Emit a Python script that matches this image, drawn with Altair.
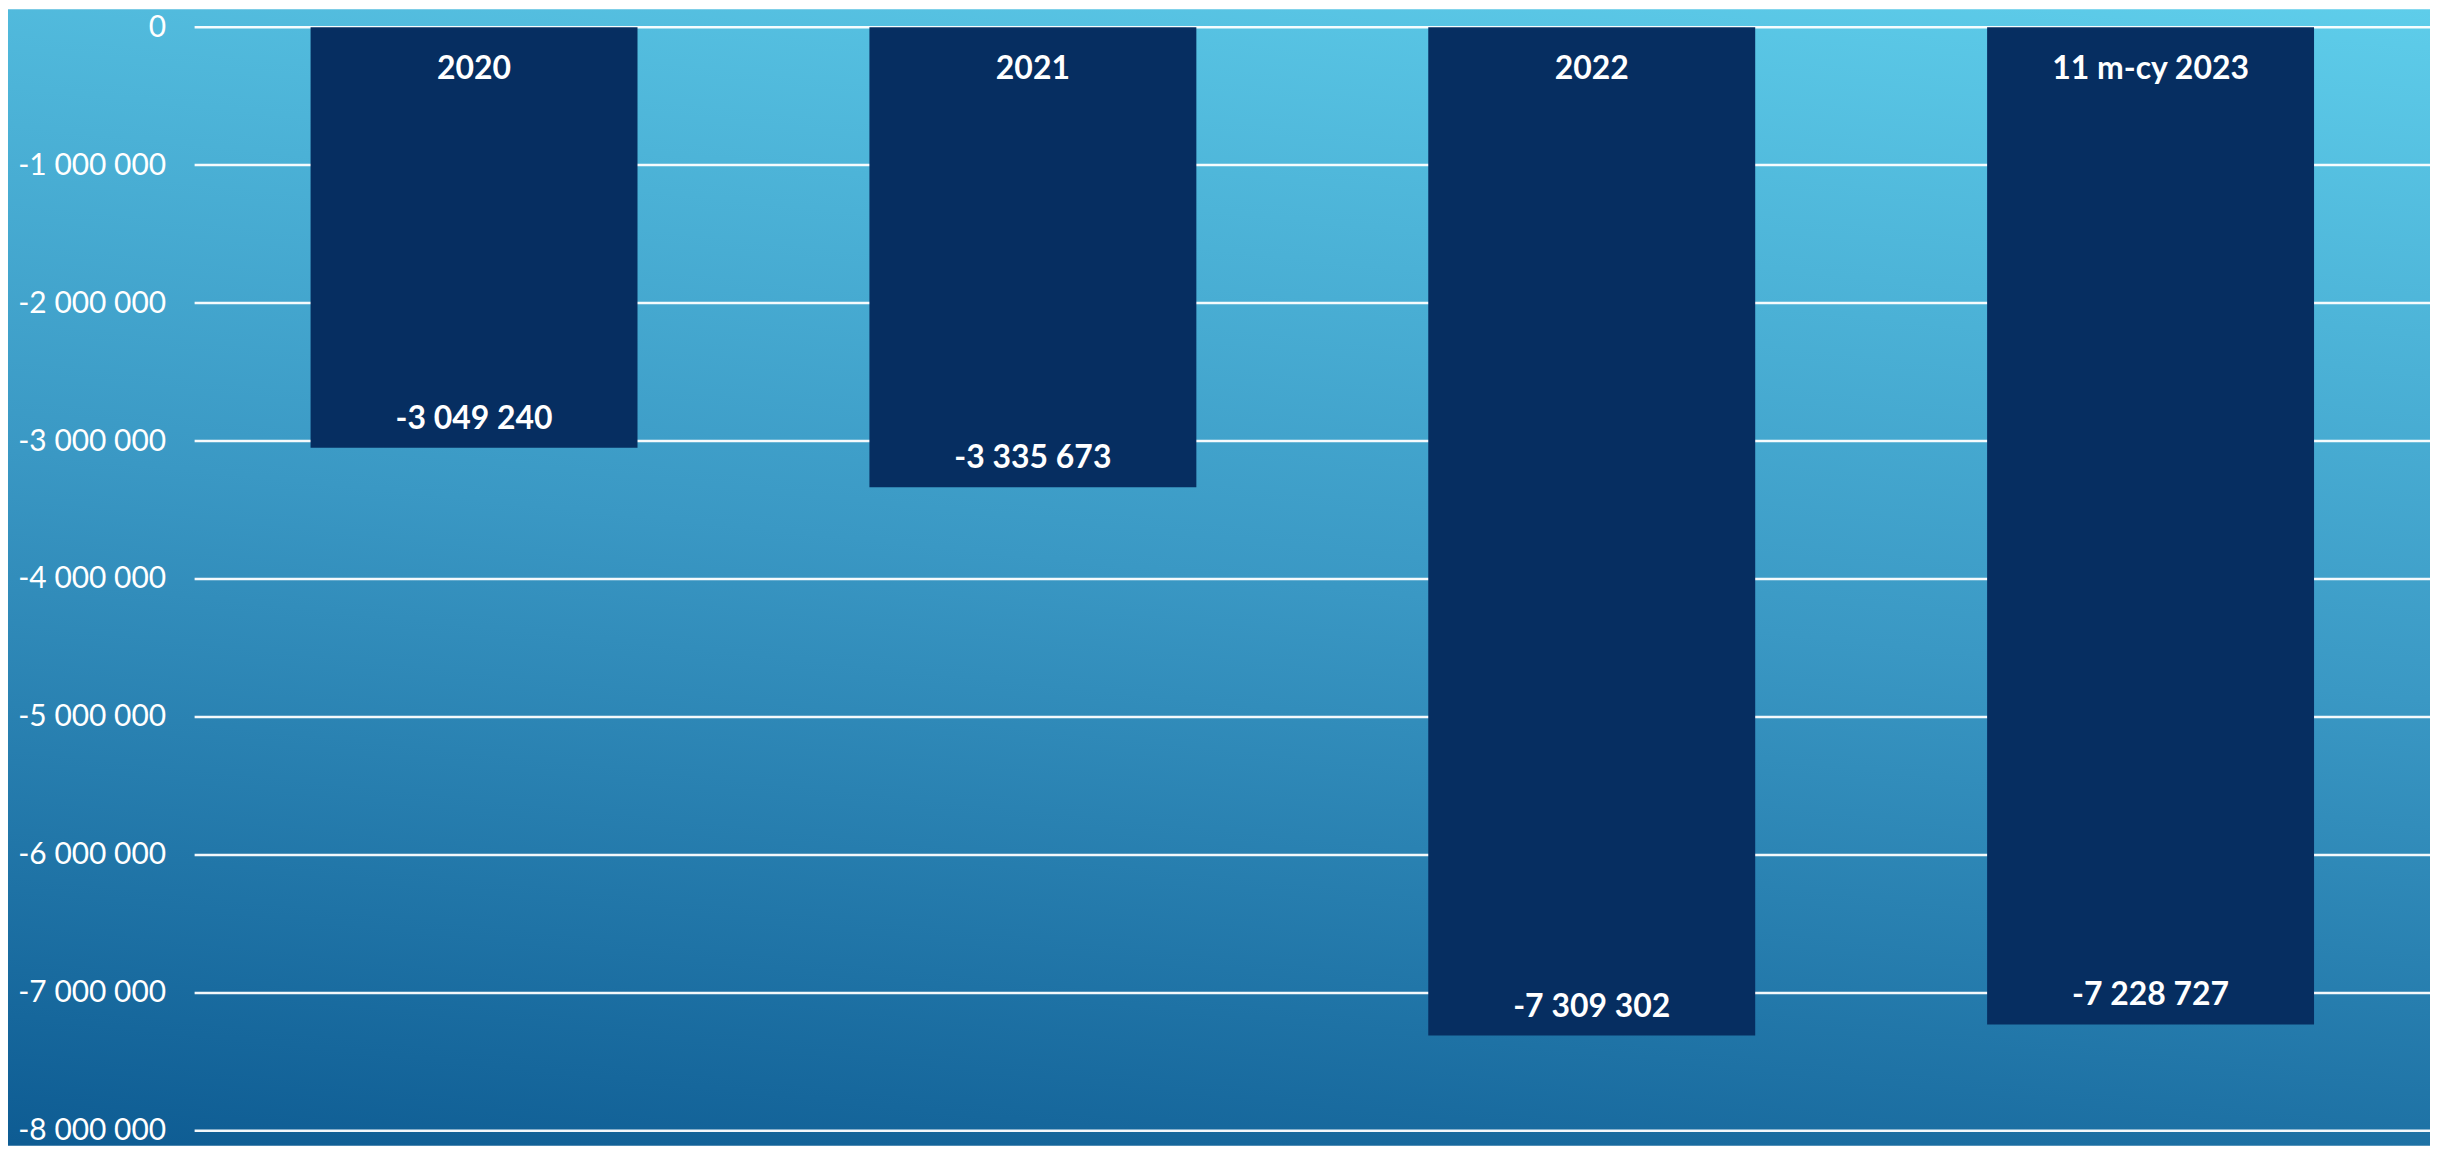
import altair as alt
import pandas as pd

categories = ["2020", "2021", "2022", "11 m-cy 2023"]
values = [-3049240, -3335673, -7309302, -7228727]
tick_values = [0, -1000000, -2000000, -3000000, -4000000, -5000000, -6000000, -7000000, -8000000]

W, H = 2240, 1106
PAD_L, PAD_T, PAD_R, PAD_B = 187, 18, 0, 15

labels = [f"{v:,}".replace(",", " ") for v in values]
df = pd.DataFrame({"cat": categories, "val": values, "lab": labels})
grid_df = pd.DataFrame({"tick": tick_values})
bg_df = pd.DataFrame({"k": [1]})

FONT = "Lato"

x = alt.X("cat:N", sort=categories, axis=None,
          scale=alt.Scale(paddingInner=0.415, paddingOuter=0.2075))
y_scale = alt.Scale(domain=[-8000000, 0], nice=False)
y_axis = alt.Axis(values=tick_values, grid=False, domain=False, ticks=False,
                  title=None, labelPadding=29, labelFont=FONT, labelFontWeight="normal",
                  labelFontSize=30, labelColor="white", zindex=1,
                  labelExpr="replace(replace(format(datum.value, ','), /,/g, ' '), '\u2212', '-')")

bg = alt.Chart(bg_df).mark_rect(
    color=alt.Gradient(
        gradient="linear",
        stops=[alt.GradientStop(color="#5ECDEA", offset=0),
               alt.GradientStop(color="#3A98C4", offset=0.5),
               alt.GradientStop(color="#0E5C93", offset=1)],
        x1=1, y1=0, x2=0.745, y2=1.16,
    )
).encode(
    x=alt.value(-PAD_L), x2=alt.value(W + PAD_R),
    y=alt.value(-PAD_T), y2=alt.value(H + PAD_B),
)

grid = alt.Chart(grid_df).mark_rule(color="white", strokeWidth=2.5, opacity=0.95).encode(
    y=alt.Y("tick:Q", scale=y_scale, axis=y_axis),
)

bars = alt.Chart(df).mark_bar(color="#062E61").encode(
    x=x,
    y=alt.Y("val:Q", scale=y_scale, axis=y_axis),
    y2=alt.datum(0),
)

cat_text = alt.Chart(df).mark_text(color="white", font=FONT, fontWeight="bold",
                                   fontSize=32, dy=42, baseline="middle").encode(
    x=x, y=alt.datum(0), text="cat:N",
)

val_text = alt.Chart(df).mark_text(color="white", font=FONT, fontWeight="bold",
                                   fontSize=32, dy=-29, baseline="middle").encode(
    x=x, y=alt.Y("val:Q", scale=y_scale, axis=y_axis), text="lab:N",
)

chart = alt.layer(bg, grid, bars, cat_text, val_text).resolve_scale(y="shared").properties(
    width=W, height=H,
    autosize=alt.AutoSizeParams(type="none"),
    padding={"left": PAD_L, "top": PAD_T, "right": PAD_R, "bottom": PAD_B},
).configure_view(stroke=None)

chart.save("out.html", embed_options={"renderer": "svg", "actions": False})
